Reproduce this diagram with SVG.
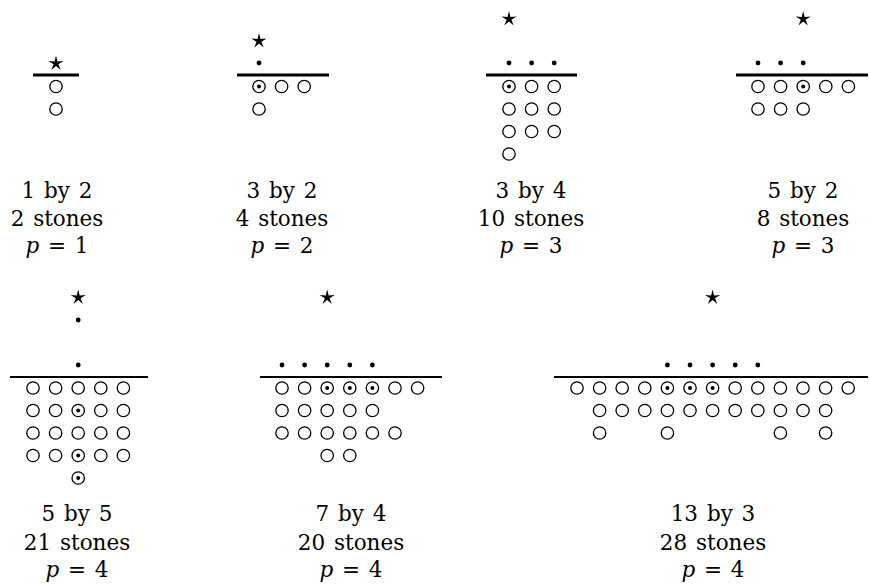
<svg xmlns="http://www.w3.org/2000/svg" xmlns:xlink="http://www.w3.org/1999/xlink" width="870" height="585" viewBox="0 0 870 585">
<style>
.st{fill:none;stroke:#000;stroke-width:1.3}
.dt{fill:#000}
.bar{stroke:#000;stroke-width:2.8}
.bar2{stroke:#000;stroke-width:2.2}
text{font-family:'DejaVu Serif','Liberation Serif',serif;font-size:21.5px;text-anchor:middle;fill:#000;word-spacing:2px}
.it{font-style:italic}
</style>
<defs>
<circle id="o" r="6.2" class="st"/>
<g id="od"><circle r="6.2" class="st"/><circle r="2" class="dt"/></g>
<circle id="d" r="2.4" class="dt"/>
<polygon id="star" class="dt" points="0,-8 1.5,-2.06 7.61,-2.47 2.38,0.78 4.7,6.47 0,2.5 -4.7,6.47 -2.38,0.78 -7.61,-2.47 -1.5,-2.06"/>
</defs>
<rect width="870" height="585" fill="#fff"/>

<g id="panel-1by2">
<use xlink:href="#star" x="56" y="63.5"/>
<line class="bar" x1="33" y1="75" x2="79" y2="75"/>
<use xlink:href="#o" x="56" y="86.5"/>
<use xlink:href="#o" x="56" y="109"/>
<text x="57" y="198">1 by 2</text>
<text x="57" y="226">2 stones</text>
<text x="57" y="253"><tspan class="it">p</tspan> = 1</text>
</g>

<g id="panel-3by2">
<use xlink:href="#star" x="259" y="41"/>
<use xlink:href="#d" x="259" y="63"/>
<line class="bar" x1="237" y1="75" x2="329" y2="75"/>
<use xlink:href="#od" x="259" y="86.5"/>
<use xlink:href="#o" x="281.6" y="86.5"/>
<use xlink:href="#o" x="304.2" y="86.5"/>
<use xlink:href="#o" x="259" y="109"/>
<text x="282" y="198">3 by 2</text>
<text x="282" y="226">4 stones</text>
<text x="282" y="253"><tspan class="it">p</tspan> = 2</text>
</g>

<g id="panel-3by4">
<use xlink:href="#star" x="509" y="19"/>
<use xlink:href="#d" x="509" y="63"/>
<use xlink:href="#d" x="531.6" y="63"/>
<use xlink:href="#d" x="554.2" y="63"/>
<line class="bar" x1="486" y1="75" x2="577" y2="75"/>
<use xlink:href="#od" x="509" y="86.5"/>
<use xlink:href="#o" x="531.6" y="86.5"/>
<use xlink:href="#o" x="554.2" y="86.5"/>
<use xlink:href="#o" x="509" y="109"/>
<use xlink:href="#o" x="531.6" y="109"/>
<use xlink:href="#o" x="554.2" y="109"/>
<use xlink:href="#o" x="509" y="131.5"/>
<use xlink:href="#o" x="531.6" y="131.5"/>
<use xlink:href="#o" x="554.2" y="131.5"/>
<use xlink:href="#o" x="509" y="154"/>
<text x="531" y="198">3 by 4</text>
<text x="531" y="226">10 stones</text>
<text x="531" y="253"><tspan class="it">p</tspan> = 3</text>
</g>

<g id="panel-5by2">
<use xlink:href="#star" x="803.2" y="19"/>
<use xlink:href="#d" x="758" y="63"/>
<use xlink:href="#d" x="780.6" y="63"/>
<use xlink:href="#d" x="803.2" y="63"/>
<line class="bar" x1="736" y1="75" x2="868" y2="75"/>
<use xlink:href="#o" x="758" y="86.5"/>
<use xlink:href="#o" x="780.6" y="86.5"/>
<use xlink:href="#od" x="803.2" y="86.5"/>
<use xlink:href="#o" x="825.8" y="86.5"/>
<use xlink:href="#o" x="848.4" y="86.5"/>
<use xlink:href="#o" x="758" y="109"/>
<use xlink:href="#o" x="780.6" y="109"/>
<use xlink:href="#o" x="803.2" y="109"/>
<text x="803" y="198">5 by 2</text>
<text x="803" y="226">8 stones</text>
<text x="803" y="253"><tspan class="it">p</tspan> = 3</text>
</g>

<g id="panel-5by5">
<use xlink:href="#star" x="78.2" y="297.5"/>
<use xlink:href="#d" x="78.2" y="320"/>
<use xlink:href="#d" x="78.2" y="365"/>
<line class="bar2" x1="10" y1="377" x2="148" y2="377"/>
<use xlink:href="#o" x="33" y="388"/>
<use xlink:href="#o" x="55.6" y="388"/>
<use xlink:href="#o" x="78.2" y="388"/>
<use xlink:href="#o" x="100.8" y="388"/>
<use xlink:href="#o" x="123.4" y="388"/>
<use xlink:href="#o" x="33" y="410.5"/>
<use xlink:href="#o" x="55.6" y="410.5"/>
<use xlink:href="#od" x="78.2" y="410.5"/>
<use xlink:href="#o" x="100.8" y="410.5"/>
<use xlink:href="#o" x="123.4" y="410.5"/>
<use xlink:href="#o" x="33" y="433"/>
<use xlink:href="#o" x="55.6" y="433"/>
<use xlink:href="#o" x="78.2" y="433"/>
<use xlink:href="#o" x="100.8" y="433"/>
<use xlink:href="#o" x="123.4" y="433"/>
<use xlink:href="#o" x="33" y="455.5"/>
<use xlink:href="#o" x="55.6" y="455.5"/>
<use xlink:href="#od" x="78.2" y="455.5"/>
<use xlink:href="#o" x="100.8" y="455.5"/>
<use xlink:href="#o" x="123.4" y="455.5"/>
<use xlink:href="#od" x="78.2" y="478"/>
<text x="77" y="521">5 by 5</text>
<text x="77" y="550">21 stones</text>
<text x="77" y="577"><tspan class="it">p</tspan> = 4</text>
</g>

<g id="panel-7by4">
<use xlink:href="#star" x="327.2" y="297.5"/>
<use xlink:href="#d" x="282" y="365"/>
<use xlink:href="#d" x="304.6" y="365"/>
<use xlink:href="#d" x="327.2" y="365"/>
<use xlink:href="#d" x="349.8" y="365"/>
<use xlink:href="#d" x="372.4" y="365"/>
<line class="bar2" x1="260" y1="377" x2="442" y2="377"/>
<use xlink:href="#o" x="282" y="388"/>
<use xlink:href="#o" x="304.6" y="388"/>
<use xlink:href="#od" x="327.2" y="388"/>
<use xlink:href="#od" x="349.8" y="388"/>
<use xlink:href="#od" x="372.4" y="388"/>
<use xlink:href="#o" x="395" y="388"/>
<use xlink:href="#o" x="417.6" y="388"/>
<use xlink:href="#o" x="282" y="410.5"/>
<use xlink:href="#o" x="304.6" y="410.5"/>
<use xlink:href="#o" x="327.2" y="410.5"/>
<use xlink:href="#o" x="349.8" y="410.5"/>
<use xlink:href="#o" x="372.4" y="410.5"/>
<use xlink:href="#o" x="282" y="433"/>
<use xlink:href="#o" x="304.6" y="433"/>
<use xlink:href="#o" x="327.2" y="433"/>
<use xlink:href="#o" x="349.8" y="433"/>
<use xlink:href="#o" x="372.4" y="433"/>
<use xlink:href="#o" x="395" y="433"/>
<use xlink:href="#o" x="327.2" y="455.5"/>
<use xlink:href="#o" x="349.8" y="455.5"/>
<text x="351" y="521">7 by 4</text>
<text x="351" y="550">20 stones</text>
<text x="351" y="577"><tspan class="it">p</tspan> = 4</text>
</g>

<g id="panel-13by3">
<use xlink:href="#star" x="712.6" y="297.5"/>
<use xlink:href="#d" x="667.4" y="365"/>
<use xlink:href="#d" x="690" y="365"/>
<use xlink:href="#d" x="712.6" y="365"/>
<use xlink:href="#d" x="735.2" y="365"/>
<use xlink:href="#d" x="757.8" y="365"/>
<line class="bar2" x1="554" y1="377" x2="868" y2="377"/>
<use xlink:href="#o" x="577" y="388"/>
<use xlink:href="#o" x="599.6" y="388"/>
<use xlink:href="#o" x="622.2" y="388"/>
<use xlink:href="#o" x="644.8" y="388"/>
<use xlink:href="#od" x="667.4" y="388"/>
<use xlink:href="#od" x="690" y="388"/>
<use xlink:href="#od" x="712.6" y="388"/>
<use xlink:href="#o" x="735.2" y="388"/>
<use xlink:href="#o" x="757.8" y="388"/>
<use xlink:href="#o" x="780.4" y="388"/>
<use xlink:href="#o" x="803" y="388"/>
<use xlink:href="#o" x="825.6" y="388"/>
<use xlink:href="#o" x="848.2" y="388"/>
<use xlink:href="#o" x="599.6" y="410.5"/>
<use xlink:href="#o" x="622.2" y="410.5"/>
<use xlink:href="#o" x="644.8" y="410.5"/>
<use xlink:href="#o" x="667.4" y="410.5"/>
<use xlink:href="#o" x="690" y="410.5"/>
<use xlink:href="#o" x="712.6" y="410.5"/>
<use xlink:href="#o" x="735.2" y="410.5"/>
<use xlink:href="#o" x="757.8" y="410.5"/>
<use xlink:href="#o" x="780.4" y="410.5"/>
<use xlink:href="#o" x="803" y="410.5"/>
<use xlink:href="#o" x="825.6" y="410.5"/>
<use xlink:href="#o" x="599.6" y="433"/>
<use xlink:href="#o" x="667.4" y="433"/>
<use xlink:href="#o" x="780.4" y="433"/>
<use xlink:href="#o" x="825.6" y="433"/>
<text x="713" y="521">13 by 3</text>
<text x="713" y="550">28 stones</text>
<text x="713" y="577"><tspan class="it">p</tspan> = 4</text>
</g>

<g id="connectors"/>
</svg>
